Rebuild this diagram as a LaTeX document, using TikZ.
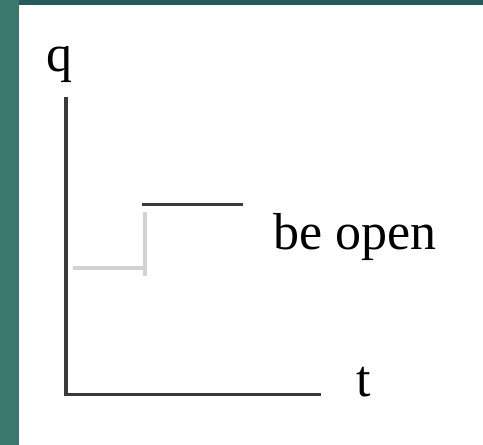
\documentclass[tikz,border=0pt]{standalone}
\usepackage{fontspec}
\newfontfamily\tmsfont{Liberation Serif}
\definecolor{tealL}{HTML}{3A786C}
\definecolor{tealT}{HTML}{245C5C}
\definecolor{axisc}{HTML}{3A3A3A}
\definecolor{lightc}{HTML}{D2D2D2}
\tikzset{
  axisline/.style={draw=axisc, line width=3.2pt},
  lightline/.style={draw=lightc, line width=4pt},
  lbl/.style={inner sep=0pt, anchor=base west, font=\tmsfont\fontsize{52}{60}\selectfont}
}
\begin{document}
\begin{tikzpicture}[x=1pt,y=-1pt]
\useasboundingbox (0,0) rectangle (483,445);
\fill[white] (0,0) rectangle (483,445);
\fill[tealT] (0,0) rectangle (483,5);
\fill[tealL] (0,0) rectangle (19,445);
% axes
\coordinate (top) at (66,97);
\coordinate (origin) at (66,394.5);
\coordinate (tend) at (321,394.5);
\draw[axisline] (top) -- (66,396) ;
\draw[axisline] (64.4,394.5) -- (tend);
% light step
\coordinate (l0) at (73,268);
\coordinate (l1) at (144.5,268);
\coordinate (l2) at (144.5,212);
\draw[lightline] (l0) -- (146.5,268);
\draw[lightline] (l2) -- (144.5,275.5);
% dark step
\coordinate (d0) at (142,204.5);
\coordinate (d1) at (243,204.5);
\draw[draw=axisc, line width=3pt] (d0) -- (d1);
% labels
\node[lbl] (q) at (46,71) {q};
\node[lbl] (t) at (356,396) {t};
\node[lbl] (be) at (273,249) {be open};
\end{tikzpicture}
\end{document}
